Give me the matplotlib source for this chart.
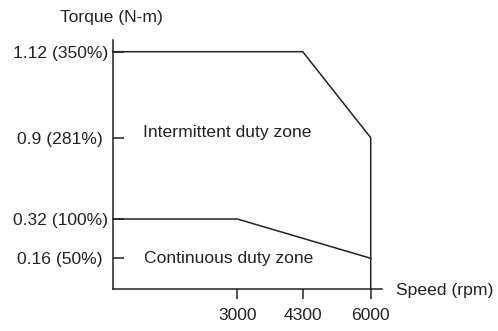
import numpy as np
import matplotlib.pyplot as plt
from matplotlib.scale import FuncScale

# torque-speed envelope (rpm, N-m)
intermittent_speed = [0, 4300, 6000, 6000]
intermittent_torque = [1.12, 1.12, 0.9, 0.0]
continuous_speed = [0, 3000, 6000]
continuous_torque = [0.32, 0.32, 0.16]

speed_ticks = [3000, 4300, 6000]
torque_ticks = [1.12, 0.9, 0.32, 0.16]
torque_labels = ["1.12 (350%)", "0.9 (281%)", "0.32 (100%)", "0.16 (50%)"]

# schematic (non-linear) axis spacing, in axis length units
x_knots = [0, 3000, 4300, 6000, 6275]
x_pos = [0, 124.3, 189.7, 257.7, 268.7]
y_knots = [0, 0.16, 0.32, 0.9, 1.12, 1.15]
y_pos = [0, 30.7, 70.0, 151.3, 237.3, 249.0]

def make_scale(knots, pos):
    fwd = lambda v: np.interp(v, knots, pos)
    inv = lambda p: np.interp(p, pos, knots)
    return FuncScale(None, (fwd, inv))

ink = "#222222"
plt.rcParams["font.family"] = ["Liberation Sans", "DejaVu Sans"]
fs = 12.6

W, H = 498, 331
fig = plt.figure(figsize=(W / 100, H / 100), dpi=100)
left, right, top, bottom = 113, 381.7, 40, 289
ax = fig.add_axes([left / W, 1 - bottom / H, (right - left) / W, (bottom - top) / H])

ax.set_xscale("function", functions=(lambda v: np.interp(v, x_knots, x_pos),
                                     lambda p: np.interp(p, x_pos, x_knots)))
ax.set_yscale("function", functions=(lambda v: np.interp(v, y_knots, y_pos),
                                     lambda p: np.interp(p, y_pos, y_knots)))
ax.set_xlim(x_knots[0], x_knots[-1])
ax.set_ylim(y_knots[0], y_knots[-1])

ax.plot(intermittent_speed, intermittent_torque, color=ink, lw=1.1, clip_on=False)
ax.plot(continuous_speed, continuous_torque, color=ink, lw=1.1, clip_on=False)

for side in ["top", "right"]:
    ax.spines[side].set_visible(False)
for side in ["left", "bottom"]:
    ax.spines[side].set_color(ink)
    ax.spines[side].set_linewidth(1.1)

ax.set_xticks(speed_ticks)
ax.set_xticklabels([str(s) for s in speed_ticks])
ax.set_yticks(torque_ticks)
ax.set_yticklabels(torque_labels)
ax.minorticks_off()
ax.tick_params(axis="x", direction="out", length=7, width=1.1, color=ink,
               labelcolor=ink, labelsize=fs, pad=7)
ax.tick_params(axis="y", direction="in", length=8, width=1.1, color=ink,
               labelcolor=ink, labelsize=fs)
for tick, val in zip(ax.yaxis.get_major_ticks(), torque_ticks):
    tick.set_pad(7.2 if val in (0.9, 0.16) else 3.6)

ax.text((142.7 - left) / (right - left), (bottom - 133) / (bottom - top),
        "Intermittent duty zone", transform=ax.transAxes, ha="left", va="center",
        fontsize=fs, color=ink)
ax.text((144 - left) / (right - left), (bottom - 258) / (bottom - top),
        "Continuous duty zone", transform=ax.transAxes, ha="left", va="center",
        fontsize=fs, color=ink)

fig.text(60 / W, 1 - 17.5 / H, "Torque (N-m)", ha="left", va="center",
         fontsize=fs, color=ink)
fig.text(396 / W, 1 - 290 / H, "Speed (rpm)", ha="left", va="center",
         fontsize=fs, color=ink)

fig.savefig("out.png", dpi=100, facecolor="white")
